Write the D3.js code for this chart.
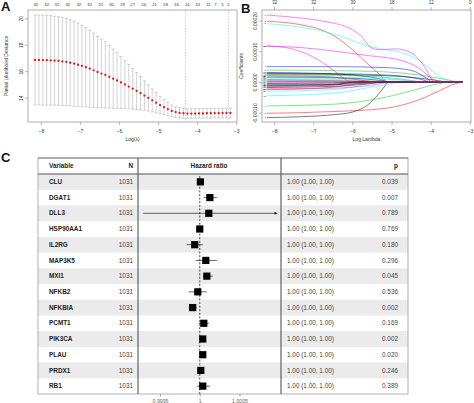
<!DOCTYPE html>
<html><head><meta charset="utf-8">
<script src="https://cdn.jsdelivr.net/npm/d3@7"></script>
<style>body{margin:0;background:#fff}svg{display:block;font-family:"Liberation Sans",Arial,sans-serif}</style>
</head><body><svg id="c" width="474" height="403"></svg>
<script>
// ---------- Panel A: cross-validation curve ----------
const cvLogLambda = [-8.15,-8.05,-7.95,-7.85,-7.75,-7.65,-7.55,-7.45,-7.35,-7.25,-7.15,-7.05,-6.95,-6.85,-6.75,-6.65,-6.55,-6.45,-6.35,-6.25,-6.15,-6.05,-5.95,-5.85,-5.75,-5.65,-5.55,-5.45,-5.35,-5.25,-5.15,-5.05,-4.95,-4.85,-4.75,-4.65,-4.55,-4.45,-4.35,-4.25,-4.15,-4.05,-3.95,-3.85,-3.75,-3.65,-3.55,-3.45,-3.35,-3.25,-3.15];
const cvMean = [16.85,16.85,16.84,16.83,16.82,16.80,16.78,16.74,16.70,16.64,16.57,16.49,16.40,16.30,16.19,16.07,15.94,15.82,15.72,15.58,15.44,15.30,15.15,15.00,14.84,14.68,14.51,14.34,14.16,13.98,13.80,13.62,13.44,13.28,13.13,13.00,12.91,12.85,12.82,12.80,12.80,12.80,12.81,12.81,12.82,12.82,12.83,12.83,12.84,12.84,12.84];
const cvSE = [3.40,3.40,3.40,3.39,3.38,3.37,3.35,3.33,3.30,3.26,3.21,3.15,3.08,3.00,2.91,2.81,2.70,2.60,2.50,2.37,2.24,2.10,1.96,1.82,1.68,1.54,1.40,1.26,1.12,0.99,0.87,0.76,0.66,0.57,0.50,0.44,0.40,0.38,0.37,0.36,0.36,0.36,0.36,0.36,0.36,0.36,0.36,0.36,0.36,0.36,0.36];
const cvTopAt = [-8.13,-7.85,-7.59,-7.31,-7.03,-6.75,-6.47,-6.19,-5.91,-5.65,-5.37,-5.09,-4.81,-4.53,-4.25,-3.99,-3.71,-3.53,-3.35,-3.20];
const cvTopLabels = ["32","32","32","32","32","32","31","30","29","27","24","21","18","16","14","13","11","7","5","2"];
const cvLambdaLines = [-4.3, -3.2];
const cvYTicks = [14,16,18,20];
const xTicks = [-8,-7,-6,-5,-4,-3];

// ---------- Panel B: coefficient paths ----------
const pathTopAt = [-8,-7,-6,-5,-4,-3];
const pathTopLabels = ["32","32","30","18","12","0"];
const pathYTicks = [-1e-4, 0, 1e-4, 2e-4];
const coefPaths = [
 [[-8.19,-1.16e-4],[-7.3,-1.13e-4],[-6.44,-1.06e-4],[-6.0,-0.98e-4],[-5.6,-0.74e-4],[-5.35,-0.42e-4],[-5.2,-0.18e-4],[-5.08,0],[-3.19,0]],
 [[-8.19,1.98e-4],[-7.3,1.86e-4],[-6.8,1.70e-4],[-6.44,1.48e-4],[-6.0,1.05e-4],[-5.6,0.58e-4],[-5.3,0.24e-4],[-5.1,0],[-3.19,0]],
 [[-8.19,0.39e-4],[-6.44,0.37e-4],[-5.17,0.33e-4],[-4.3,0.23e-4],[-3.6,0.08e-4],[-3.25,0],[-3.19,0]],
 [[-8.19,0.50e-4],[-6.44,0.50e-4],[-5.17,0.47e-4],[-4.5,0.38e-4],[-4.1,0.12e-4],[-3.95,0],[-3.19,0]],
 [[-8.19,1.90e-4],[-7.3,1.78e-4],[-6.44,1.55e-4],[-5.6,1.17e-4],[-5.2,1.06e-4],[-4.74,0.96e-4],[-4.3,0.70e-4],[-3.9,0.30e-4],[-3.47,0],[-3.19,0]],
 [[-8.19,2.18e-4],[-7.3,2.08e-4],[-6.5,1.92e-4],[-6.2,1.82e-4],[-5.8,1.52e-4],[-5.5,1.10e-4],[-5.3,1.05e-4],[-4.9,1.08e-4],[-4.65,1.03e-4],[-4.4,0.86e-4],[-4.15,0.48e-4],[-3.9,0],[-3.19,0]],
 [[-8.19,0.26e-4],[-6.44,0.25e-4],[-5.6,0.22e-4],[-4.74,0.18e-4],[-4.0,0.08e-4],[-3.5,0],[-3.19,0]],
 [[-8.19,-1.02e-4],[-6.44,-0.96e-4],[-5.17,-0.86e-4],[-4.3,-0.58e-4],[-3.8,-0.30e-4],[-3.47,-0.10e-4],[-3.19,0]],
 [[-8.19,-0.78e-4],[-6.44,-0.72e-4],[-5.17,-0.50e-4],[-4.3,-0.22e-4],[-3.9,-0.08e-4],[-3.4,0],[-3.19,0]],
 [[-8.19,0.28e-4],[-6.5,0.27e-4],[-5.0,0.22e-4],[-4.3,0.10e-4],[-3.95,0],[-3.19,0]],
 [[-8.19,-0.45e-4],[-6.44,-0.36e-4],[-5.59,-0.18e-4],[-5.0,-0.05e-4],[-4.74,0],[-3.19,0]],
 [[-8.19,1.17e-4],[-7.3,1.12e-4],[-6.44,1.00e-4],[-5.6,0.86e-4],[-4.74,0.70e-4],[-4.3,0.45e-4],[-3.95,0.10e-4],[-3.75,0],[-3.19,0]],
 [[-8.19,0.31e-4],[-6.8,0.28e-4],[-5.8,0.20e-4],[-5.3,0.10e-4],[-5.1,0],[-3.19,0]],
 [[-8.19,0.06e-4],[-7.0,0.05e-4],[-6.0,0.03e-4],[-5.5,0],[-3.19,0]],
 [[-8.19,0.23e-4],[-6.44,0.22e-4],[-5.17,0.15e-4],[-4.5,0.05e-4],[-4.2,0],[-3.19,0]],
 [[-8.19,0.02e-4],[-6.5,0.01e-4],[-6.0,0],[-3.19,0]],
 [[-8.19,0.12e-4],[-6.4,0.12e-4],[-5.5,0.10e-4],[-4.7,0.05e-4],[-4.3,0],[-3.19,0]],
 [[-8.19,1.17e-4],[-7.7,1.12e-4],[-7.3,0.98e-4],[-6.87,0.72e-4],[-6.44,0.34e-4],[-6.15,0.06e-4],[-6.0,0],[-3.19,0]],
 [[-8.19,-0.05e-4],[-6.5,-0.03e-4],[-5.8,0],[-3.19,0]],
 [[-8.19,-0.15e-4],[-6.5,-0.10e-4],[-5.8,0],[-3.19,0]],
 [[-8.19,-0.08e-4],[-6.5,-0.06e-4],[-5.6,-0.02e-4],[-5.3,0],[-3.19,0]],
 [[-8.19,-0.12e-4],[-6.5,-0.09e-4],[-5.5,-0.03e-4],[-5.0,0],[-3.19,0]],
 [[-8.19,-0.30e-4],[-6.5,-0.25e-4],[-5.8,-0.12e-4],[-5.4,0],[-3.19,0]],
 [[-8.19,-0.02e-4],[-7.0,-0.02e-4],[-6.3,0],[-3.19,0]],
 [[-8.19,-0.18e-4],[-6.44,-0.14e-4],[-5.6,-0.06e-4],[-5.2,0],[-3.19,0]],
 [[-8.19,-0.25e-4],[-6.8,-0.20e-4],[-6.0,-0.08e-4],[-5.6,0],[-3.19,0]],
 [[-8.19,0.08e-4],[-6.0,0.06e-4],[-4.7,0],[-3.19,0]],
 [[-8.19,0.16e-4],[-6.5,0.14e-4],[-5.5,0.08e-4],[-4.9,0],[-3.19,0]],
 [[-8.19,0.18e-4],[-6.5,0.16e-4],[-5.0,0.10e-4],[-4.1,0],[-3.19,0]],
 [[-8.19,-0.22e-4],[-6.5,-0.20e-4],[-5.5,-0.10e-4],[-5.0,0],[-3.19,0]],
 [[-8.19,-0.10e-4],[-6.5,-0.08e-4],[-5.9,0],[-3.19,0]],
 [[-8.19,0.20e-4],[-6.8,0.18e-4],[-5.9,0.08e-4],[-5.4,0],[-3.19,0]]
];

// ---------- Panel C: forest table ----------
const variables = ["CLU","DGAT1","DLL3","HSP90AA1","IL2RG","MAP3K5","MXI1","NFKB2","NFKBIA","PCMT1","PIK3CA","PLAU","PRDX1","RB1"];
const nValues = [1031,1031,1031,1031,1031,1031,1031,1031,1031,1031,1031,1031,1031,1031];
const hr   = [1.000008,1.000127,1.000114,1.000000,0.999937,1.000076,1.000089,0.999975,0.999911,1.000051,1.000038,1.000038,1.000013,1.000038];
const hrLo = [1.000001,1.000051,0.999290,0.999980,0.999835,0.999949,1.000038,0.999861,0.999861,0.999987,1.000013,1.000019,0.999975,0.999962];
const hrHi = [1.000016,1.000215,1.001300,1.000020,1.000038,1.000215,1.000165,1.000089,0.999962,1.000114,1.000063,1.000057,1.000051,1.000127];
const pValues = [0.039,0.007,0.789,0.769,0.180,0.296,0.045,0.536,0.002,0.169,0.002,0.020,0.246,0.389];
const forestTicks = [0.9995, 1, 1.0005];

// ---------- drawing ----------
const svg = d3.select("#c");
const rPal = ["#000000","#FF0000","#00CD00","#0000FF","#00FFFF","#FF00FF"];
const txt = "#333";

function panelLabel(t, x, y){
  svg.append("text").attr("x",x).attr("y",y).attr("font-size",13).attr("font-weight","bold").attr("fill","#111").text(t);
}

function baseAxes(g, xs, ys, yTicks, yFmt, box, xTitle, yTitle, titleX){
  g.append("rect").attr("x",box[0]).attr("y",box[1]).attr("width",box[2]-box[0]).attr("height",box[3]-box[1])
    .attr("fill","none").attr("stroke","#9a9a9a").attr("stroke-width",0.8);
  const xa = g.append("g").attr("transform",`translate(0,${box[3]})`)
    .call(d3.axisBottom(xs).tickValues(xTicks).tickSize(3).tickSizeOuter(0).tickFormat(d3.format("d")));
  xa.select(".domain").remove();
  xa.selectAll("line").attr("stroke","#888").attr("stroke-width",0.6);
  xa.selectAll("text").attr("font-size",5).attr("fill",txt).attr("dy","0.9em").attr("font-family","Liberation Sans, Arial");
  const ya = g.append("g").attr("transform",`translate(${box[0]},0)`)
    .call(d3.axisLeft(ys).tickValues(yTicks).tickSize(3).tickSizeOuter(0).tickFormat(yFmt));
  ya.select(".domain").remove();
  ya.selectAll("line").attr("stroke","#888").attr("stroke-width",0.6);
  ya.selectAll("text").attr("font-size",5).attr("fill",txt).attr("text-anchor","middle")
    .attr("transform","rotate(-90)").attr("x",0).attr("y",-5).attr("dy","0").attr("font-family","Liberation Sans, Arial");
  g.append("text").attr("x",(box[0]+box[2])/2).attr("y",box[3]+19).attr("text-anchor","middle")
    .attr("font-size",5).attr("fill",txt).text(xTitle);
  g.append("text").attr("transform",`translate(${titleX},${(box[1]+box[3])/2}) rotate(-90)`).attr("text-anchor","middle")
    .attr("font-size",5).attr("fill",txt).text(yTitle);
}

// Panel A
(function(){
  const box=[28,10,237,122];
  const xs=d3.scaleLinear().domain([-8.33,-2.98]).range([box[0],box[2]]);
  const ys=d3.scaleLinear().domain([12.16,20.63]).range([box[3],box[1]]);
  const g=svg.append("g");
  g.selectAll(".vl").data(cvLambdaLines).join("line")
    .attr("x1",d=>xs(d)).attr("x2",d=>xs(d)).attr("y1",box[1]).attr("y2",box[3])
    .attr("stroke","#aaa").attr("stroke-width",0.6).attr("stroke-dasharray","1.5,1.5");
  const pts = cvLogLambda.map((l,i)=>({l, m:cvMean[i], s:cvSE[i]}));
  g.selectAll(".eb").data(pts).join("line")
    .attr("x1",d=>xs(d.l)).attr("x2",d=>xs(d.l)).attr("y1",d=>ys(d.m+d.s)).attr("y2",d=>ys(d.m-d.s))
    .attr("stroke","#b5b5b5").attr("stroke-width",0.6);
  g.selectAll(".cu").data(pts).join("line")
    .attr("x1",d=>xs(d.l)-1.6).attr("x2",d=>xs(d.l)+1.6).attr("y1",d=>ys(d.m+d.s)).attr("y2",d=>ys(d.m+d.s))
    .attr("stroke","#b5b5b5").attr("stroke-width",0.6);
  g.selectAll(".cl").data(pts).join("line")
    .attr("x1",d=>xs(d.l)-1.6).attr("x2",d=>xs(d.l)+1.6).attr("y1",d=>ys(d.m-d.s)).attr("y2",d=>ys(d.m-d.s))
    .attr("stroke","#b5b5b5").attr("stroke-width",0.6);
  g.selectAll(".pt").data(pts).join("circle")
    .attr("cx",d=>xs(d.l)).attr("cy",d=>ys(d.m)).attr("r",1.15).attr("fill","#e41a1a");
  baseAxes(g,xs,ys,cvYTicks,d3.format("d"),box,"Log(λ)","Partial Likelihood Deviance",8);
  g.selectAll(".tl").data(cvTopAt).join("text")
    .attr("x",d=>xs(d)).attr("y",6).attr("text-anchor","middle").attr("font-size",4.3).attr("fill",txt)
    .text((d,i)=>cvTopLabels[i]);
})();

// Panel B
(function(){
  const box=[262,10,471,122];
  const xs=d3.scaleLinear().domain([-8.31,-2.97]).range([box[0],box[2]]);
  const ys=d3.scaleLinear().domain([-1.303e-4,2.345e-4]).range([box[3],box[1]]);
  const g=svg.append("g");
  const line=d3.line().x(d=>xs(d[0])).y(d=>ys(d[1])).curve(d3.curveMonotoneX);
  const cp = svg.append("defs").append("clipPath").attr("id","cpB");
  cp.append("rect").attr("x",box[0]).attr("y",box[1]).attr("width",box[2]-box[0]).attr("height",box[3]-box[1]);
  g.append("g").attr("clip-path","url(#cpB)").selectAll("path").data(coefPaths).join("path")
    .attr("d",line).attr("fill","none").attr("stroke",(d,i)=>rPal[i%6]).attr("stroke-width",0.6).attr("stroke-opacity",0.85);
  g.selectAll(".lab").data(coefPaths).join("text")
    .attr("x",d=>xs(d[0][0])-0.8).attr("y",d=>ys(d[0][1])+0.8).attr("text-anchor","end")
    .attr("font-size",2.4).attr("fill","#222").text((d,i)=>i+1);
  baseAxes(g,xs,ys,pathYTicks,d=>d3.format(".5f")(d).replace("−","-"),box,"Log Lambda","Coefficients",243);
  const ta=g.append("g").attr("transform",`translate(0,${box[1]})`)
    .call(d3.axisTop(xs).tickValues(pathTopAt).tickSize(3).tickSizeOuter(0).tickFormat((d,i)=>pathTopLabels[i]));
  ta.select(".domain").remove();
  ta.selectAll("line").attr("stroke","#888").attr("stroke-width",0.6);
  ta.selectAll("text").attr("font-size",4.5).attr("fill",txt).attr("font-family","Liberation Sans, Arial");
})();

// Panel C
(function(){
  const T={l:38,r:408,t:158,hb:174,b:394,c1:138,c2:281};
  const rows=d3.scaleBand().domain(variables).range([T.hb,T.b]);
  const fx=d3.scaleLinear().domain([0.9995,1.0005]).range([160,239.5]);
  const g=svg.append("g");
  const fs=6.4;
  g.selectAll(".shade").data(variables.filter((v,i)=>i%2===0)).join("rect")
    .attr("x",T.l).attr("width",T.r-T.l).attr("y",d=>rows(d)).attr("height",rows.bandwidth()).attr("fill","#ebebeb");
  g.append("rect").attr("x",T.l).attr("y",T.t).attr("width",T.r-T.l).attr("height",T.b-T.t)
    .attr("fill","none").attr("stroke","#a8a8a8").attr("stroke-width",0.9);
  g.append("line").attr("x1",T.l).attr("x2",T.r).attr("y1",T.t).attr("y2",T.t).attr("stroke","#777").attr("stroke-width",0.9);
  g.append("line").attr("x1",T.l).attr("x2",T.r).attr("y1",T.hb).attr("y2",T.hb).attr("stroke","#555").attr("stroke-width",1.2);
  [T.c1,T.c2].forEach(x=>g.append("line").attr("x1",x).attr("x2",x).attr("y1",T.t).attr("y2",T.b).attr("stroke","#555").attr("stroke-width",1.1));
  const hy=(T.t+T.hb)/2+2.2;
  const hdr=[["Variable",49,"start"],["N",133,"end"],["Hazard ratio",209,"middle"],["p",398,"end"]];
  g.selectAll(".hd").data(hdr).join("text").attr("x",d=>d[1]).attr("y",hy).attr("text-anchor",d=>d[2])
    .attr("font-size",fs).attr("font-weight","bold").attr("fill","#222").text(d=>d[0]);
  const cy=v=>rows(v)+rows.bandwidth()/2;
  g.selectAll(".vn").data(variables).join("text").attr("x",49).attr("y",d=>cy(d)+2.2)
    .attr("font-size",fs).attr("font-weight","bold").attr("fill","#222").text(d=>d);
  g.selectAll(".nn").data(variables).join("text").attr("x",133).attr("y",d=>cy(d)+2.2).attr("text-anchor","end")
    .attr("font-size",fs).attr("fill","#444").text((d,i)=>nValues[i]);
  const f2=d3.format(".2f"), f3=d3.format(".3f");
  g.selectAll(".hrt").data(variables).join("text").attr("x",287).attr("y",d=>cy(d)+2.2)
    .attr("font-size",fs).attr("fill","#444").text((d,i)=>`${f2(hr[i])} (${f2(hrLo[i])}, ${f2(hrHi[i])})`);
  g.selectAll(".pv").data(variables).join("text").attr("x",398).attr("y",d=>cy(d)+2.2).attr("text-anchor","end")
    .attr("font-size",fs).attr("fill","#444").text((d,i)=>f3(pValues[i]));
  g.append("line").attr("x1",fx(1)).attr("x2",fx(1)).attr("y1",T.hb+2).attr("y2",T.b)
    .attr("stroke","#222").attr("stroke-width",0.8).attr("stroke-dasharray","2,1.6");
  const xmax=T.c2-5, xmin=T.c1+3;
  variables.forEach((v,i)=>{
    const y=cy(v);
    const x1=Math.max(xmin,fx(hrLo[i])), x2=Math.min(xmax,fx(hrHi[i]));
    g.append("line").attr("x1",x1).attr("x2",x2).attr("y1",y).attr("y2",y).attr("stroke","#222").attr("stroke-width",0.7);
    if(fx(hrHi[i])>xmax){
      g.append("path").attr("d",`M${x2+1.5},${y} L${x2-1.5},${y-1.5} L${x2-1.5},${y+1.5} Z`).attr("fill","#222");
    }
    g.append("rect").attr("x",fx(hr[i])-3.6).attr("y",y-3.6).attr("width",7.2).attr("height",7.2).attr("fill","#000");
  });
  const fa=g.append("g").attr("transform",`translate(0,${T.b})`)
    .call(d3.axisBottom(fx).tickValues(forestTicks).tickSize(2.5).tickSizeOuter(0).tickFormat(d=>d===1?"1":d3.format(".4f")(d)));
  fa.select(".domain").remove();
  fa.selectAll("line").attr("stroke","#666").attr("stroke-width",0.6);
  fa.selectAll("text").attr("font-size",5.2).attr("fill","#666").attr("font-family","Liberation Sans, Arial").attr("dy","0.75em");
})();

panelLabel("A",1,11);
panelLabel("B",241,13);
panelLabel("C",1,162);
</script>
</body></html>
